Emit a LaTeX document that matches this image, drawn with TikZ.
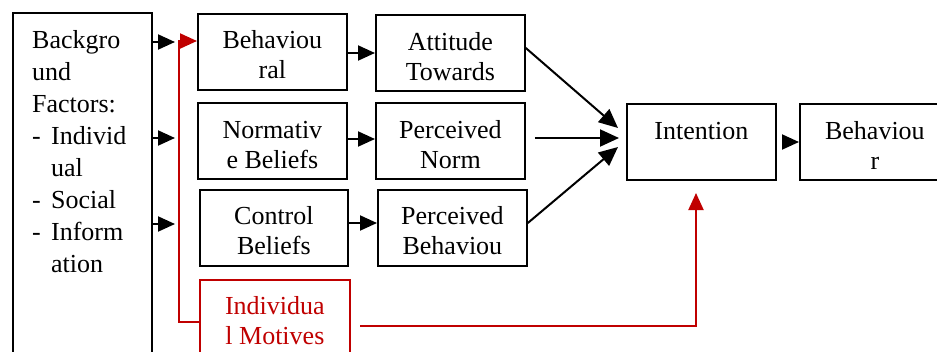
\documentclass[tikz,border=0pt]{standalone}
\usepackage{fontspec}
\setmainfont{Liberation Serif}
\usetikzlibrary{arrows.meta,calc}
\definecolor{dred}{RGB}{192,0,0}
\newcommand\boxlines[2]{\parbox[t]{#1}{\centering #2}}
\tikzset{
  box/.style={draw=black, line width=1.8pt, inner sep=0pt, anchor=north west},
  txt/.style={anchor=base, inner sep=0pt, font=\fontsize{26}{30}\selectfont},
  arr/.style={line width=2pt, -{Triangle[length=17pt,width=15pt]}},
  bigarr/.style={line width=2pt, -{Triangle[length=19pt,width=17pt]}},
  redarr/.style={draw=dred, line width=2pt, -{Triangle[length=17pt,width=15pt]}, color=dred},
}
\begin{document}
\begin{tikzpicture}[x=1pt,y=-1pt]
\useasboundingbox (0,0) rectangle (937,351);
% left box
\node[box, minimum width=139pt, minimum height=350pt] (bg) at (12,12) {};
\node[txt, anchor=base west, font=\fontsize{26}{32}\selectfont] (bgT) at (32,48)
  {\parbox[t]{118pt}{\raggedright Backgro\\und\\Factors:\\\makebox[19pt][l]{-}Individ\\\hspace*{19pt}ual\\\makebox[19pt][l]{-}Social\\\makebox[19pt][l]{-}Inform\\\hspace*{19pt}ation}};
% column 1
\node[box, minimum width=149pt, minimum height=76pt] (beh) at (197,13) {};
\node[txt] (behT) at (beh.north |- 0,48) {\boxlines{149pt}{Behaviou\\ral}};
\node[box, minimum width=149pt, minimum height=76pt] (nor) at (197,102) {};
\node[txt] (norT) at (nor.north |- 0,138) {\boxlines{149pt}{Normativ\\e Beliefs}};
\node[box, minimum width=148pt, minimum height=76pt] (con) at (199,189) {};
\node[txt] (conT) at (con.north |- 0,224) {\boxlines{148pt}{Control\\Beliefs}};
\node[box, draw=dred, minimum width=150pt, minimum height=80pt] (im) at (199,279) {};
\node[txt, text=dred] (imT) at (im.north |- 0,314) {\boxlines{150pt}{Individua\\l Motives}};
% column 2
\node[box, minimum width=149pt, minimum height=76pt] (att) at (375,14) {};
\node[txt] (attT) at (att.north |- 0,50) {\boxlines{149pt}{Attitude\\Towards}};
\node[box, minimum width=149pt, minimum height=76pt] (pn) at (375,102) {};
\node[txt] (pnT) at (pn.north |- 0,138) {\boxlines{149pt}{Perceived\\Norm}};
\node[box, minimum width=149pt, minimum height=76pt] (pb) at (377,189) {};
\node[txt] (pbT) at (pb.north |- 0,224) {\boxlines{149pt}{Perceived\\Behaviou}};
% intention and behaviour
\node[box, minimum width=149pt, minimum height=76pt] (int) at (626,103) {};
\node[txt] (intT) at (int.north |- 0,139) {Intention};
\node[box, minimum width=150pt, minimum height=76pt] (bhv) at (799,103) {};
\node[txt] (bhvT) at (bhv.north |- 0,139) {\boxlines{150pt}{Behaviou\\r}};
% arrows from background box
\coordinate (t1) at (175,42);
\coordinate (t2) at (175,138);
\coordinate (t3) at (175,224);
\draw[arr] (bg.east |- t1) -- (t1);
\draw[arr] (bg.east |- t2) -- (t2);
\draw[arr] (bg.east |- t3) -- (t3);
% column 1 -> column 2
\draw[arr] (beh.east |- 0,53) -- (att.west |- 0,53);
\draw[arr] (nor.east |- 0,139) -- (pn.west |- 0,139);
\draw[arr] (con.east |- 0,223) -- (pb.west |- 0,223);
% to intention
\coordinate (e1) at (618,128);
\coordinate (e2) at (619,138);
\coordinate (e3) at (618,147);
\draw[bigarr] (att.east |- 0,48) -- (e1);
\draw[bigarr, shorten <=9pt] (pn.east |- 0,138) -- (e2);
\draw[bigarr] (pb.east |- 0,223) -- (e3);
% intention -> behaviour
\draw[arr, shorten <=6pt] (int.east |- 0,142) -- (bhv.west |- 0,142);
% red connectors
\coordinate (rc) at (179,41);
\coordinate (rt) at (197,41);
\draw[redarr] (im.west |- 0,322) -| (rc) -- (rt);
\coordinate (ib) at (360,326);
\coordinate (ic) at (696,193);
\draw[redarr] (ib) -| (ic);
\end{tikzpicture}
\end{document}
